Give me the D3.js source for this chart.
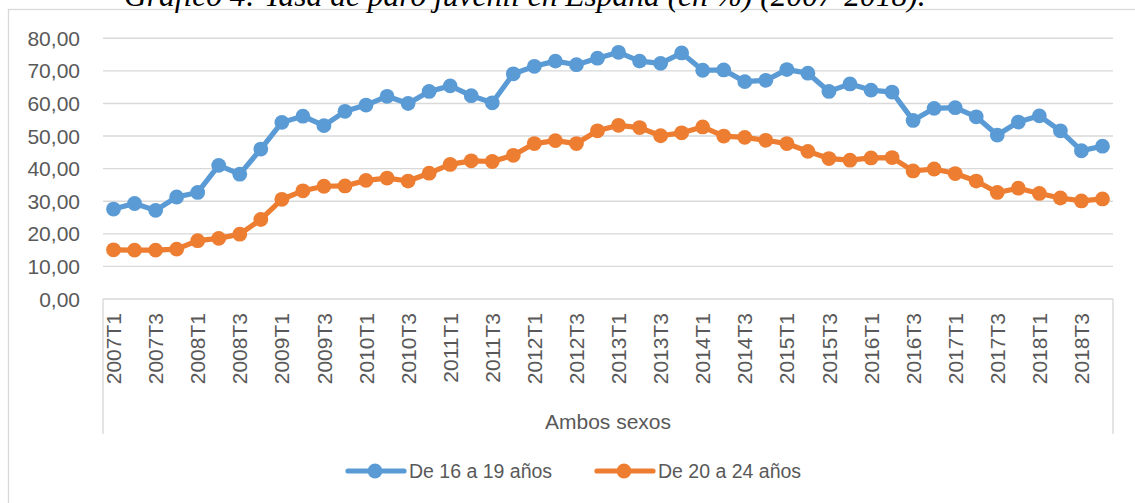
<!DOCTYPE html>
<html>
<head>
<meta charset="utf-8">
<script src="https://cdn.jsdelivr.net/npm/d3@7"></script>
<style>
  body { margin: 0; background: #fff; }
  svg { display: block; }
</style>
</head>
<body>
<div id="chart"></div>
<script>
// Chart data
const years = [2007, 2008, 2009, 2010, 2011, 2012, 2013, 2014, 2015, 2016, 2017, 2018];
const quarters = ['T1', 'T2', 'T3', 'T4'];
const seriesNames = ['De 16 a 19 años', 'De 20 a 24 años'];
const seriesColors = ['#5B9BD5', '#ED7D31'];
const youth16to19 = [27.6, 29.3, 27.2, 31.3, 32.7, 41.0, 38.3, 46.0, 54.2, 56.1, 53.2, 57.6,
    59.5, 62.2, 60.0, 63.7, 65.4, 62.4, 60.2, 69.1, 71.4, 73.0, 71.9, 73.9,
    75.7, 73.0, 72.3, 75.5, 70.2, 70.3, 66.7, 67.1, 70.4, 69.3, 63.7, 66.0,
    64.1, 63.5, 54.8, 58.5, 58.7, 55.9, 50.3, 54.3, 56.2, 51.6, 45.5, 46.9];
const youth20to24 = [15.1, 15.0, 15.0, 15.3, 17.9, 18.6, 19.9, 24.4, 30.6, 33.2, 34.6, 34.7,
    36.4, 37.1, 36.2, 38.6, 41.3, 42.4, 42.2, 44.1, 47.7, 48.6, 47.7, 51.6,
    53.3, 52.6, 50.1, 51.0, 52.8, 50.0, 49.6, 48.7, 47.7, 45.3, 43.1, 42.6,
    43.3, 43.4, 39.3, 39.9, 38.5, 36.2, 32.7, 34.0, 32.4, 31.0, 30.1, 30.7];
const yTicks = [0, 10, 20, 30, 40, 50, 60, 70, 80];
const groupLabel = 'Ambos sexos';
const titleText = 'Gráfico 4: Tasa de paro juvenil en España (en %) (2007-2018).';

const categories = [];
years.forEach(y => quarters.forEach(q => categories.push(y + q)));
const series = [youth16to19, youth20to24];

const width = 1135, height = 503;
const plot = { left: 103, right: 1113, top: 38.3, bottom: 299 };
const labelFont = "'Liberation Sans', Arial, sans-serif";
const textColor = '#595959';
const gridColor = '#d9d9d9';

const svg = d3.select('#chart').append('svg')
    .attr('width', width)
    .attr('height', height);

svg.append('rect').attr('width', width).attr('height', height).attr('fill', '#fff');

// chart area border (runs off the right and bottom of the picture)
svg.append('rect')
    .attr('x', 8.5).attr('y', 9.5)
    .attr('width', width + 20).attr('height', height + 20)
    .attr('fill', 'none')
    .attr('stroke', gridColor)
    .attr('stroke-width', 1.3);

// title, cut off at the top
const title = svg.append('text')
    .attr('x', 124)
    .attr('y', 6)
    .style('font-family', "'Liberation Serif', 'Times New Roman', serif")
    .style('font-style', 'italic')
    .style('font-size', '26px')
    .style('fill', '#000')
    .text(titleText);
const tw = title.node().getComputedTextLength();
title.style('font-size', (26 * 802 / tw) + 'px');

const x = d3.scaleBand()
    .domain(categories)
    .range([plot.left, plot.right])
    .padding(0);
const cx = d => x(d) + x.bandwidth() / 2;

const y = d3.scaleLinear()
    .domain([0, 80])
    .range([plot.bottom, plot.top]);

// gridlines
svg.append('g').selectAll('line')
    .data(yTicks)
    .join('line')
    .attr('x1', plot.left).attr('x2', plot.right)
    .attr('y1', d => y(d)).attr('y2', d => y(d))
    .attr('stroke', gridColor)
    .attr('stroke-width', 1.4);

// y axis labels
svg.append('g').selectAll('text')
    .data(yTicks)
    .join('text')
    .attr('x', 80)
    .attr('y', d => y(d))
    .attr('dy', '0.36em')
    .attr('text-anchor', 'end')
    .style('font-family', labelFont)
    .style('font-size', '21px')
    .style('fill', textColor)
    .text(d => d3.format('.2f')(d).replace('.', ','));

// category box below the plot
const boxBottom = 434;
svg.append('g').selectAll('line')
    .data([plot.left, plot.right])
    .join('line')
    .attr('x1', d => d).attr('x2', d => d)
    .attr('y1', plot.bottom).attr('y2', boxBottom)
    .attr('stroke', gridColor)
    .attr('stroke-width', 1.4);

// rotated quarter labels (every second one)
svg.append('g').selectAll('text')
    .data(categories.filter((d, i) => i % 2 === 0))
    .join('text')
    .attr('transform', d => `translate(${cx(d)},313) rotate(-90)`)
    .attr('dy', '0.36em')
    .attr('text-anchor', 'end')
    .style('font-family', labelFont)
    .style('font-size', '21px')
    .style('fill', textColor)
    .text(d => d);

svg.append('text')
    .attr('x', (plot.left + plot.right) / 2)
    .attr('y', 429)
    .attr('text-anchor', 'middle')
    .style('font-family', labelFont)
    .style('font-size', '21px')
    .style('fill', textColor)
    .text(groupLabel);

// lines with markers
const line = d3.line()
    .x((d, i) => cx(categories[i]))
    .y(d => y(d));

series.forEach((values, s) => {
    const g = svg.append('g');
    g.append('path')
        .datum(values)
        .attr('d', line)
        .attr('fill', 'none')
        .attr('stroke', seriesColors[s])
        .attr('stroke-width', 5.2)
        .attr('stroke-linejoin', 'round')
        .attr('stroke-linecap', 'round');
    g.selectAll('circle')
        .data(values)
        .join('circle')
        .attr('cx', (d, i) => cx(categories[i]))
        .attr('cy', d => y(d))
        .attr('r', 7.4)
        .attr('fill', seriesColors[s]);
});

// legend
const legendY = 471;
const legendX = [348, 597];
const legend = svg.append('g').selectAll('g')
    .data(seriesNames)
    .join('g')
    .attr('transform', (d, i) => `translate(${legendX[i]},${legendY})`);
legend.append('line')
    .attr('x1', 0).attr('x2', 56)
    .attr('stroke', (d, i) => seriesColors[i])
    .attr('stroke-width', 5.2)
    .attr('stroke-linecap', 'round');
legend.append('circle')
    .attr('cx', 27).attr('r', 7.4)
    .attr('fill', (d, i) => seriesColors[i]);
legend.append('text')
    .attr('x', 61)
    .attr('dy', '0.36em')
    .style('font-family', labelFont)
    .style('font-size', '19.5px')
    .style('fill', textColor)
    .text(d => d);
</script>
</body>
</html>
